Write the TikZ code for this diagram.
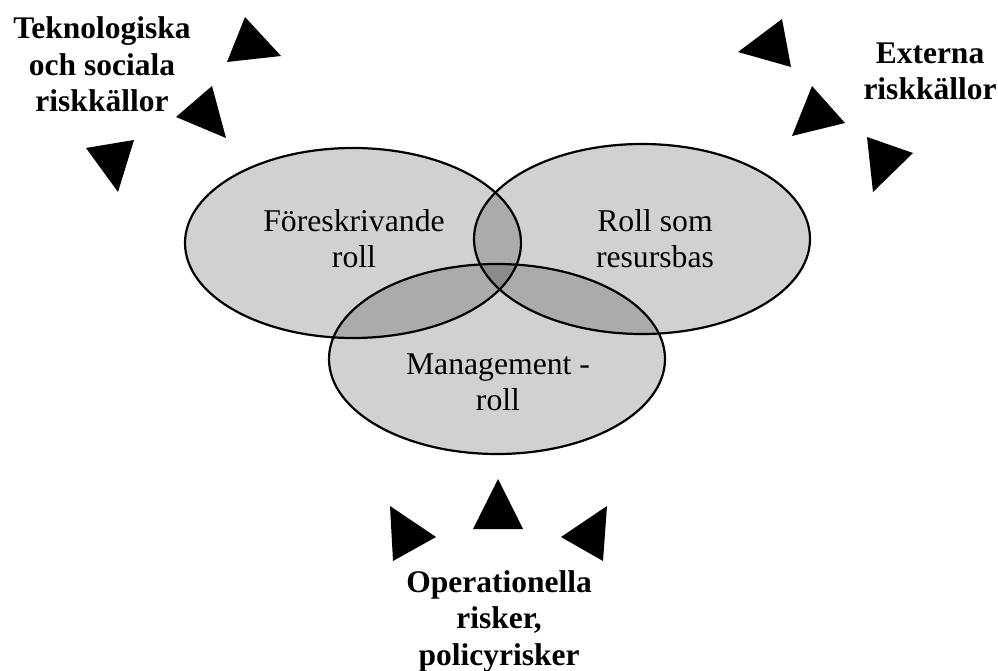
\documentclass[tikz,border=0pt]{standalone}
\usepackage{fontspec}
\setmainfont{Liberation Serif}
\usetikzlibrary{shapes.geometric}

\begin{document}
\begin{tikzpicture}[x=1pt, y=-1pt,
    roll/.style={ellipse, draw=black, line width=2.2pt, fill=black, fill opacity=0.18, minimum width=336pt, minimum height=190pt, inner sep=0pt},
    rolltext/.style={align=center, anchor=base, font=\fontsize{31.7}{35.5}\selectfont},
    risk/.style={align=center, anchor=base, font=\bfseries\fontsize{31.5}{36.5}\selectfont},
    pil/.style={fill=black}]
    \useasboundingbox (0,0) rectangle (998,671);

    \node[roll] (fore) at (353,243) {};
    \node[roll] (resurs) at (642,239) {};
    \node[roll] (mgmt) at (497,359) {};

    \node[rolltext] (foretext) at (354,267) {Föreskrivande\\roll};
    \node[rolltext] (resurstext) at (655,267) {Roll som\\resursbas};
    \node[rolltext] (mgmttext) at (498,410) {Management -\\roll};

    \node[risk] (tekn) at (102,112) {Teknologiska\\och sociala\\riskkällor};
    \node[risk] (extern) at (930,100) {Externa\\riskkällor};
    \node[risk] (oper) at (499,665) {Operationella\\risker,\\policyrisker};

    \fill[pil] (227,62) -- (245,17) -- (281,56) -- cycle;
    \fill[pil] (176,117) -- (212,86) -- (226,138) -- cycle;
    \fill[pil] (86,148) -- (134,140) -- (118,192) -- cycle;

    \fill[pil] (738,52) -- (782,19) -- (791,67) -- cycle;
    \fill[pil] (792,136) -- (812,86) -- (845,123) -- cycle;
    \fill[pil] (867,137) -- (913,153) -- (873,192) -- cycle;

    \fill[pil] (390,506) -- (436,537) -- (393,561) -- cycle;
    \fill[pil] (498,479) -- (523,529) -- (473,529) -- cycle;
    \fill[pil] (607,506) -- (561,537) -- (603,561) -- cycle;
\end{tikzpicture}
\end{document}
